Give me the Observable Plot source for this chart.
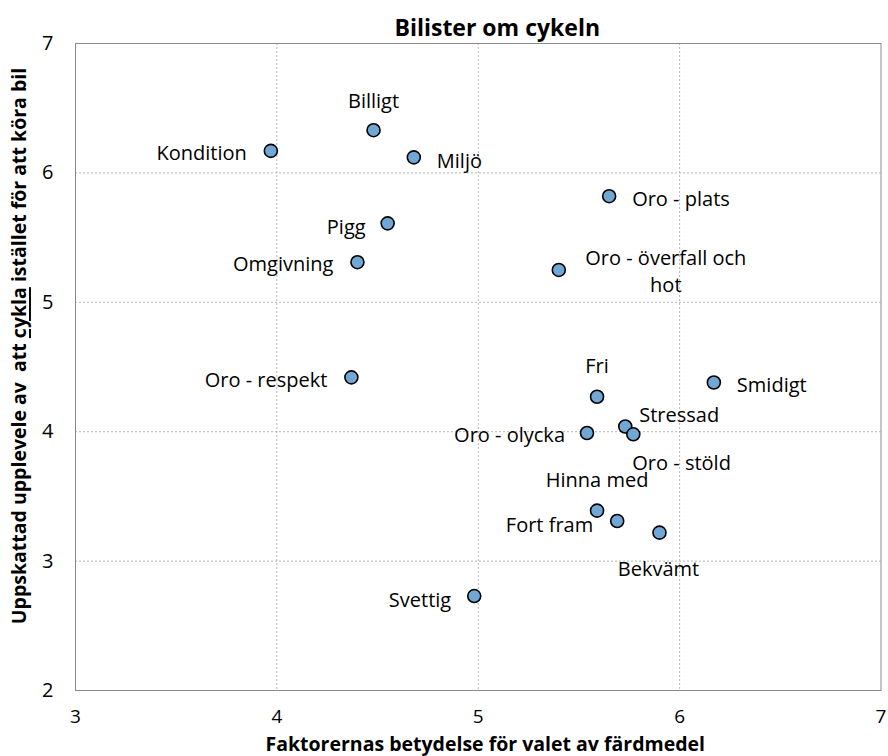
<!DOCTYPE html>
<html><head><meta charset="utf-8">
<script src="https://cdn.jsdelivr.net/npm/d3@7"></script>
<script src="https://cdn.jsdelivr.net/npm/@observablehq/plot@0.6"></script>
<style>body{margin:0;background:#fff;}</style>
</head><body><div id="chart"></div>
<script>
// ---- data ----
const factors = ["Billigt","Kondition","Miljö","Oro - plats","Pigg","Omgivning","Oro - överfall och hot","Oro - respekt","Smidigt","Fri","Stressad","Oro - stöld","Oro - olycka","Hinna med","Fort fram","Bekvämt","Svettig"];
const importance = [4.48,3.97,4.68,5.65,4.55,4.40,5.40,4.37,6.17,5.59,5.73,5.77,5.54,5.59,5.69,5.90,4.98];
const experience = [6.33,6.17,6.12,5.82,5.61,5.31,5.25,4.42,4.38,4.27,4.04,3.98,3.99,3.39,3.31,3.22,2.73];
const displayLabels = ["Billigt","Kondition","Miljö","Oro - plats","Pigg","Omgivning","Oro - överfall och\nhot","Oro - respekt","Smidigt","Fri","Stressad","Oro - stöld","Oro - olycka","Hinna med","Fort fram","Bekvämt","Svettig"];
const xTicks = [3,4,5,6,7];
const yTicks = [2,3,4,5,6,7];
const xGrid = [4,5,6];
const yGrid = [3,4,5,6];
const title = "Bilister om cykeln";
const xTitle = "Faktorernas betydelse för valet av färdmedel";
const yTitleParts = ["Uppskattad upplevele av  att ", "cykla", " istället för att köra bil"];

// ---- label placement (layout only) ----
const labelPlacement = [
  ["middle",0,-31],["end",-24,0],["start",23,2],["start",23,1],["end",-22,2],["end",-24,0],
  ["middle",107,0],["end",-24,1],["start",23,1],["middle",0,-32],["start",14,-13],["start",-1,27],
  ["end",-22,0],["middle",0,-32],["end",-24,2],["middle",-1,35],["end",-23,2]
];

const data = factors.map((f,i)=>({factor:f, label:displayLabels[i], x:importance[i], y:experience[i]}));

const FONT = "'Open Sans', sans-serif";
const labelMarks = data.map((d,i)=>Plot.text([d], {
  x:"x", y:"y", text:"label", textAnchor:labelPlacement[i][0], dx:labelPlacement[i][1], dy:labelPlacement[i][2],
  lineAnchor:"middle", lineHeight:1.35, fontSize:20, fill:"#000"
}));

const chart = Plot.plot({
  width: 888, height: 756,
  marginTop: 43, marginBottom: 66, marginLeft: 75, marginRight: 7.5,
  style: {fontFamily: FONT, fontSize: "20px", color:"#000", background:"#fff"},
  x: {domain:[3,7]},
  y: {domain:[2,7]},
  marks: [
    Plot.gridX(xGrid, {stroke:"#b4b4b4", strokeOpacity:1, strokeDasharray:"2,2"}),
    Plot.gridY(yGrid, {stroke:"#b4b4b4", strokeOpacity:1, strokeDasharray:"2,2"}),
    Plot.frame({stroke:"#8a8a8a", strokeWidth:1}),
    Plot.axisX(xTicks, {tickSize:0, tickPadding:19, fontSize:19, label:null, tickFormat:d3.format("d")}),
    Plot.axisY(yTicks, {tickSize:0, tickPadding:22, fontSize:20, label:null, tickFormat:d3.format("d")}),
    Plot.dot(data, {x:"x", y:"y", r:6.5, fill:"#70a7d5", stroke:"#000", strokeWidth:1.6}),
    ...labelMarks,
    Plot.text([title], {frameAnchor:"top", dx:19, dy:-15, fontWeight:"bold", fontSize:23, lineAnchor:"middle"}),
    Plot.text([xTitle], {frameAnchor:"bottom", dx:7, dy:54, fontWeight:"bold", fontSize:19.5, lineAnchor:"middle"})
  ]
});
document.getElementById("chart").appendChild(chart);

// y-axis title with underlined word
const svg = d3.select(chart);
const yt = svg.append("text")
  .attr("transform","translate(18,346) rotate(-90)")
  .attr("text-anchor","middle")
  .attr("dominant-baseline","central")
  .attr("font-weight","bold")
  .attr("font-size","19.5px")
  .attr("font-family", FONT)
  .attr("fill","#000")
  .attr("xml:space","preserve")
  .style("white-space","pre");
yTitleParts.forEach((t,i)=>{
  const ts = yt.append("tspan").text(t);
  if (i===1) ts.attr("text-decoration","underline");
});
</script>
</body></html>
